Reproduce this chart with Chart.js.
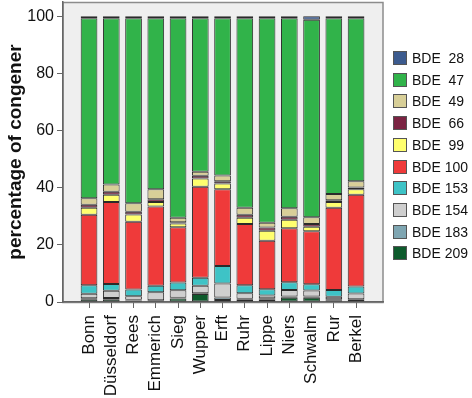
<!DOCTYPE html>
<html>
<head>
<meta charset="utf-8">
<script src="https://cdn.jsdelivr.net/npm/chart.js@4.4.1/dist/chart.umd.min.js"></script>
<style>
html,body{margin:0;padding:0;background:#fff;}
#wrap{width:472px;height:398px;position:relative;}
</style>
</head>
<body>
<div id="wrap"><canvas id="c" width="472" height="398"></canvas></div>
<script>
// ---- data (percent of congener, stacked bottom to top) ----
const categories = ['Bonn','Düsseldorf','Rees','Emmerich','Sieg','Wupper','Erft','Ruhr','Lippe','Niers','Schwalm','Rur','Berkel'];
const yTicks = [0, 20, 40, 60, 80, 100];

const bde209 = [1.0, 1.0, 0.5, 0.3, 1.2, 2.8, 0.7, 0.8, 0.8, 1.5, 1.5, 0.4, 0.7];
const bde183 = [0.3, 0.4, 0.3, 0.3, 0.3, 0.3, 0.9, 0.3, 0.5, 0.4, 0.4, 0.6, 0.3];
const bde154 = [1.6, 2.5, 1.2, 2.8, 2.6, 2.6, 4.9, 2.0, 1.0, 2.3, 2.1, 0.8, 2.0];
const bde153 = [3.0, 2.4, 2.4, 2.3, 2.7, 2.8, 6.1, 2.8, 2.2, 2.7, 2.2, 2.4, 2.4];
const bde100 = [24.6, 28.7, 23.7, 27.7, 19.4, 31.8, 26.9, 21.4, 16.9, 18.9, 18.6, 28.8, 32.1];
const bde99  = [2.5, 2.5, 2.5, 1.6, 1.3, 2.9, 2.0, 2.2, 3.5, 3.0, 1.5, 2.0, 2.0];
const bde66  = [1.0, 1.1, 1.0, 1.0, 0.4, 1.0, 0.8, 1.0, 1.2, 1.0, 1.0, 0.6, 0.6];
const bde49  = [2.3, 2.5, 3.0, 3.5, 1.6, 1.4, 2.0, 2.5, 1.6, 3.0, 2.4, 2.2, 2.2];
const bde47  = [63.0, 58.2, 64.7, 59.8, 69.8, 53.7, 55.0, 66.3, 71.6, 66.5, 69.1, 61.5, 57.0];
const bde28  = [0.7, 0.7, 0.7, 0.7, 0.7, 0.7, 0.7, 0.7, 0.7, 0.7, 1.2, 0.7, 0.7];

const seriesNames = ['BDE 209','BDE 183','BDE 154','BDE 153','BDE 100','BDE  99','BDE  66','BDE  49','BDE  47','BDE  28'];
const seriesValues = [bde209, bde183, bde154, bde153, bde100, bde99, bde66, bde49, bde47, bde28];
const seriesColors = ['#0d5a2c','#7fa6b2','#cfcfcf','#3ec3c6','#ef3a3a','#ffff6e','#7a2342','#d8cf98','#31b34a','#3c5b8e'];

const FONT = "'Liberation Sans', Arial, Helvetica, sans-serif";
Chart.defaults.font.family = FONT;

const datasets = seriesNames.map((name, k) => ({
  label: name,
  data: seriesValues[k].map((v, i) => ({x: i, y: v})),
  backgroundColor: seriesColors[k],
  borderColor: '#2b2b2b',
  borderWidth: 1,
  borderSkipped: false,
  barPercentage: 0.75,
  categoryPercentage: 1.0
}));

const plotBox = {
  id: 'plotBox',
  beforeDraw(chart) {
    const {ctx, chartArea: a} = chart;
    ctx.save();
    ctx.fillStyle = '#efefef';
    ctx.fillRect(a.left, a.top, a.right - a.left, a.bottom - a.top);
    ctx.strokeStyle = '#8c8c8c';
    ctx.lineWidth = 1.5;
    ctx.strokeRect(a.left, a.top + 0.5, a.right - a.left, a.bottom - a.top);
    ctx.restore();
  }
};

const sideLegend = {
  id: 'sideLegend',
  afterDraw(chart) {
    const {ctx, chartArea: a} = chart;
    const ds = chart.data.datasets;
    const x0 = a.right + 10;
    const top = 58, step = 21.7;
    ctx.save();
    ctx.font = '14px ' + FONT;
    ctx.textBaseline = 'middle';
    ctx.textAlign = 'left';
    for (let k = 0; k < ds.length; k++) {
      const d = ds[ds.length - 1 - k];
      const cy = Math.round(top + k * step);
      ctx.fillStyle = d.backgroundColor;
      ctx.fillRect(x0, cy - 7, 14, 14);
      ctx.strokeStyle = '#555';
      ctx.lineWidth = 1;
      ctx.strokeRect(x0 + 0.5, cy - 6.5, 13, 13);
      ctx.fillStyle = '#111';
      ctx.fillText(d.label, x0 + 19, cy + 1);
    }
    ctx.restore();
  }
};

new Chart(document.getElementById('c'), {
  type: 'bar',
  data: { datasets },
  options: {
    responsive: false,
    animation: false,
    devicePixelRatio: 1,
    layout: { padding: { top: 2, right: 89, left: 0, bottom: 0 } },
    plugins: { legend: { display: false }, tooltip: { enabled: false } },
    scales: {
      x: {
        type: 'linear',
        stacked: true,
        offset: false,
        min: -1.17,
        max: 13.21,
        afterBuildTicks: s => { s.ticks = categories.map((_, i) => ({ value: i })); },
        afterFit: s => { s.height = 96; s.paddingLeft = 0; s.paddingRight = 0; },
        grid: { drawOnChartArea: false, tickLength: 6, color: '#666', offset: false },
        border: { color: '#666', width: 1.5 },
        ticks: {
          autoSkip: false, minRotation: 90, maxRotation: 90, padding: 7,
          font: { size: 17 }, color: '#111',
          callback: v => categories[v] ?? ''
        }
      },
      y: {
        stacked: true,
        min: 0,
        max: 105,
        afterBuildTicks: s => { s.ticks = yTicks.map(v => ({ value: v })); },
        afterFit: s => { s.width = 63; s.paddingTop = 0; s.paddingBottom = 0; },
        grid: { drawOnChartArea: false, tickLength: 6, color: '#666' },
        border: { color: '#666', width: 1.5 },
        ticks: { font: { size: 16 }, color: '#111', padding: 3 },
        title: {
          display: true, text: 'percentage of congener',
          font: { size: 19, weight: 'bold' }, color: '#111',
          padding: { top: 4, bottom: 0 }
        }
      }
    }
  },
  plugins: [plotBox, sideLegend]
});
</script>
</body>
</html>
